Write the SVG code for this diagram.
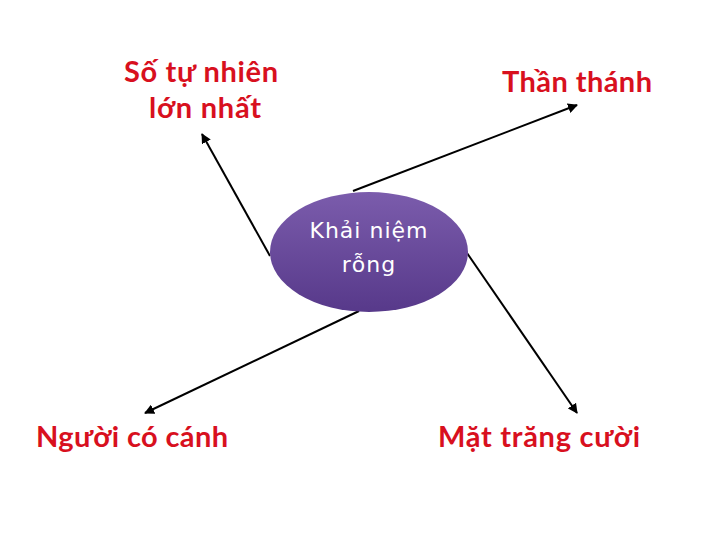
<svg xmlns="http://www.w3.org/2000/svg" width="720" height="540" viewBox="0 0 720 540">
<style>
.lbl{font-family:Lato,"Liberation Sans",sans-serif;font-weight:bold;font-size:29px;fill:#d8101e;text-anchor:middle}
.ctr{font-family:"DejaVu Sans","Liberation Sans",sans-serif;font-size:22px;fill:#ffffff;text-anchor:middle;letter-spacing:1px}
.cn{stroke:#000;stroke-width:2;fill:none;marker-end:url(#ah)}
</style>
<defs>
<linearGradient id="g" x1="0" y1="0" x2="0" y2="1">
<stop offset="0" stop-color="#7b5cac"/>
<stop offset="1" stop-color="#57398a"/>
</linearGradient>
<marker id="ah" viewBox="0 0 10 10" refX="9" refY="5" markerWidth="5" markerHeight="5" orient="auto" markerUnits="strokeWidth">
<path d="M0,0 L10,5 L0,10 z" fill="#000"/>
</marker>
</defs>
<rect width="720" height="540" fill="#fff"/>
<g id="connectors">
<line class="cn" x1="270" y1="256" x2="202" y2="134"/>
<line class="cn" x1="353" y1="191" x2="577" y2="105"/>
<line class="cn" x1="359" y1="311" x2="145" y2="413"/>
<line class="cn" x1="467" y1="253" x2="577" y2="413"/>
</g>
<g id="center">
<ellipse cx="369" cy="252" rx="99" ry="60" fill="url(#g)"/>
<text class="ctr" x="369" y="238">Khải niệm</text>
<text class="ctr" x="369" y="272">rỗng</text>
</g>
<g id="n1">
<text class="lbl" x="201" y="82" textLength="154">Số tự nhiên</text>
<text class="lbl" x="205" y="118" textLength="112">lớn nhất</text>
</g>
<g id="n2"><text class="lbl" x="577" y="92" textLength="150">Thần thánh</text></g>
<g id="n3"><text class="lbl" x="132" y="447" textLength="192">Người có cánh</text></g>
<g id="n4"><text class="lbl" x="539" y="447" textLength="202">Mặt trăng cười</text></g>
</svg>
